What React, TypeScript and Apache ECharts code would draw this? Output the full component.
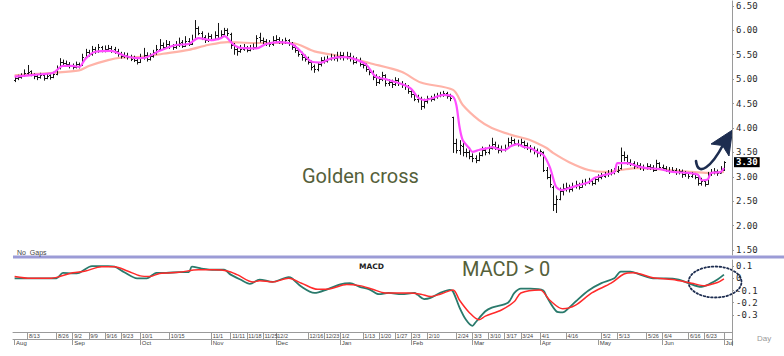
import React, { useEffect, useRef } from 'react';
import * as echarts from 'echarts';

// ---------- categories (trading days) ----------
const START_DATE = '2024-08-07';
const END_DATE = '2025-07-03';
const HOLIDAYS = [
  '2024-10-14', '2024-11-28', '2024-12-25', '2024-12-26', '2025-01-01', '2025-02-17',
  '2025-04-04', '2025-04-07', '2025-04-14', '2025-04-18', '2025-05-05', '2025-05-06',
  '2025-06-02', '2025-06-03',
];
const DATE_LABELS = [
  '2024-08-13', '2024-08-26', '2024-09-02', '2024-09-09', '2024-09-16', '2024-09-23',
  '2024-10-01', '2024-10-15', '2024-11-01', '2024-11-11', '2024-11-18', '2024-11-25',
  '2024-12-02', '2024-12-16', '2024-12-23', '2025-01-02', '2025-01-13', '2025-01-20',
  '2025-01-27', '2025-02-03', '2025-02-10', '2025-02-24', '2025-03-03', '2025-03-10',
  '2025-03-17', '2025-03-24', '2025-04-01', '2025-04-16', '2025-05-02', '2025-05-13',
  '2025-05-26', '2025-06-04', '2025-06-16', '2025-06-23', '2025-07-01',
];
const HIDDEN_DATE_LABELS = ['2025-07-01'];
const MONTH_NAMES = ['Jan', 'Feb', 'Mar', 'Apr', 'May', 'Jun', 'Jul', 'Aug', 'Sep', 'Oct', 'Nov', 'Dec'];
const PRICE_TICKS = [6.5, 6.0, 5.5, 5.0, 4.5, 4.0, 3.5, 3.0, 2.5, 2.0, 1.5];
const MACD_TICKS = [0.1, 0, -0.1, -0.2, -0.3];
const LAST_PRICE = 3.30;

// ---------- daily OHLC ----------
const opens = [
  4.98, 5.02, 5.04, 5.08, 5.12, 5.16, 5.10, 5.07, 5.04, 5.08,
  5.03, 5.08, 5.05, 5.11, 5.24, 5.36, 5.33, 5.30, 5.28, 5.25,
  5.30, 5.30, 5.46, 5.56, 5.52, 5.62, 5.58, 5.66, 5.60, 5.62,
  5.64, 5.61, 5.58, 5.52, 5.47, 5.50, 5.45, 5.43, 5.40, 5.36,
  5.45, 5.50, 5.42, 5.48, 5.55, 5.62, 5.70, 5.66, 5.72, 5.68,
  5.65, 5.70, 5.76, 5.68, 5.78, 5.72, 5.82, 6.04, 5.95, 5.86,
  5.80, 5.88, 5.82, 5.90, 5.86, 5.92, 6.00, 5.92, 5.70, 5.62,
  5.58, 5.62, 5.65, 5.60, 5.63, 5.66, 5.86, 5.80, 5.78, 5.75,
  5.72, 5.80, 5.82, 5.78, 5.76, 5.80, 5.74, 5.66, 5.60, 5.52,
  5.45, 5.42, 5.35, 5.26, 5.20, 5.30, 5.40, 5.38, 5.42, 5.45,
  5.43, 5.48, 5.50, 5.46, 5.48, 5.44, 5.35, 5.40, 5.30, 5.28,
  5.20, 5.15, 5.05, 4.95, 5.00, 5.08, 4.92, 4.95, 4.90, 4.98,
  4.93, 4.88, 4.85, 4.75, 4.70, 4.60, 4.62, 4.45, 4.55, 4.62,
  4.60, 4.65, 4.68, 4.70, 4.72, 4.66, 4.22, 3.70, 3.55, 3.64,
  3.50, 3.50, 3.42, 3.38, 3.35, 3.45, 3.55, 3.50, 3.60, 3.68,
  3.62, 3.55, 3.58, 3.60, 3.72, 3.75, 3.70, 3.68, 3.72, 3.65,
  3.62, 3.58, 3.55, 3.48, 3.50, 3.15, 3.00, 2.80, 2.45, 2.55,
  2.70, 2.78, 2.80, 2.75, 2.82, 2.85, 2.80, 2.88, 2.90, 2.92,
  2.88, 2.95, 3.00, 3.02, 3.05, 3.08, 3.10, 3.12, 3.18, 3.45,
  3.40, 3.30, 3.28, 3.22, 3.25, 3.20, 3.18, 3.22, 3.20, 3.15,
  3.28, 3.20, 3.18, 3.15, 3.12, 3.15, 3.10, 3.12, 3.05, 3.08,
  3.02, 3.05, 3.00, 2.88, 2.92, 2.86, 3.05, 3.10, 3.12, 3.08, 3.15,
];
const highs = [
  5.06, 5.09, 5.12, 5.20, 5.29, 5.18, 5.12, 5.09, 5.13, 5.10,
  5.12, 5.10, 5.15, 5.28, 5.43, 5.40, 5.38, 5.35, 5.32, 5.36,
  5.34, 5.52, 5.62, 5.60, 5.68, 5.66, 5.72, 5.68, 5.69, 5.70,
  5.68, 5.66, 5.62, 5.56, 5.55, 5.54, 5.50, 5.48, 5.44, 5.52,
  5.64, 5.55, 5.53, 5.60, 5.70, 5.82, 5.75, 5.80, 5.78, 5.72,
  5.78, 5.85, 5.80, 5.88, 5.84, 5.91, 6.21, 6.08, 5.98, 5.90,
  5.95, 5.92, 5.98, 6.15, 6.00, 6.05, 6.04, 5.95, 5.74, 5.68,
  5.70, 5.72, 5.68, 5.70, 5.73, 5.90, 5.95, 5.85, 5.82, 5.80,
  5.88, 5.90, 5.86, 5.82, 5.85, 5.82, 5.76, 5.70, 5.64, 5.56,
  5.50, 5.46, 5.38, 5.30, 5.35, 5.45, 5.46, 5.48, 5.52, 5.50,
  5.56, 5.56, 5.55, 5.56, 5.54, 5.48, 5.45, 5.44, 5.35, 5.32,
  5.22, 5.18, 5.10, 5.06, 5.15, 5.10, 5.00, 4.99, 5.04, 5.02,
  4.96, 4.92, 4.88, 4.80, 4.74, 4.68, 4.64, 4.60, 4.66, 4.66,
  4.70, 4.72, 4.74, 4.76, 4.74, 4.70, 4.23, 3.78, 3.75, 3.70,
  3.58, 3.55, 3.48, 3.44, 3.50, 3.62, 3.60, 3.66, 3.80, 3.72,
  3.66, 3.64, 3.66, 3.80, 3.82, 3.78, 3.76, 3.78, 3.74, 3.70,
  3.65, 3.62, 3.58, 3.56, 3.52, 3.20, 3.05, 2.82, 2.62, 2.78,
  2.86, 2.88, 2.84, 2.88, 2.92, 2.88, 2.94, 2.96, 2.98, 2.95,
  3.00, 3.05, 3.08, 3.10, 3.14, 3.16, 3.18, 3.22, 3.60, 3.52,
  3.45, 3.36, 3.32, 3.30, 3.28, 3.25, 3.28, 3.26, 3.24, 3.35,
  3.30, 3.25, 3.22, 3.20, 3.20, 3.18, 3.16, 3.15, 3.12, 3.10,
  3.10, 3.08, 3.02, 2.98, 2.95, 3.10, 3.16, 3.18, 3.15, 3.22, 3.32,
];
const lows = [
  4.94, 4.98, 5.01, 5.05, 5.08, 5.06, 5.00, 4.98, 5.01, 4.97,
  5.00, 4.99, 5.02, 5.08, 5.20, 5.28, 5.25, 5.22, 5.20, 5.22,
  5.22, 5.27, 5.42, 5.46, 5.48, 5.52, 5.54, 5.55, 5.55, 5.57,
  5.54, 5.52, 5.46, 5.42, 5.43, 5.40, 5.37, 5.35, 5.30, 5.33,
  5.40, 5.36, 5.38, 5.44, 5.50, 5.58, 5.60, 5.62, 5.62, 5.60,
  5.62, 5.66, 5.64, 5.66, 5.68, 5.70, 5.80, 5.90, 5.80, 5.74,
  5.76, 5.78, 5.80, 5.80, 5.84, 5.90, 5.88, 5.62, 5.50, 5.48,
  5.54, 5.58, 5.55, 5.57, 5.60, 5.64, 5.75, 5.72, 5.68, 5.66,
  5.68, 5.74, 5.72, 5.70, 5.72, 5.68, 5.60, 5.54, 5.46, 5.38,
  5.36, 5.30, 5.18, 5.13, 5.16, 5.26, 5.32, 5.34, 5.38, 5.38,
  5.36, 5.40, 5.38, 5.40, 5.36, 5.30, 5.32, 5.26, 5.22, 5.15,
  5.08, 4.98, 4.86, 4.90, 4.96, 4.85, 4.86, 4.82, 4.86, 4.86,
  4.82, 4.78, 4.70, 4.62, 4.55, 4.52, 4.37, 4.40, 4.50, 4.54,
  4.56, 4.60, 4.63, 4.64, 4.60, 4.55, 3.49, 3.48, 3.45, 3.42,
  3.40, 3.36, 3.30, 3.28, 3.32, 3.42, 3.44, 3.46, 3.56, 3.55,
  3.48, 3.50, 3.52, 3.58, 3.66, 3.64, 3.62, 3.62, 3.58, 3.55,
  3.50, 3.46, 3.40, 3.42, 3.10, 2.95, 2.78, 2.30, 2.26, 2.52,
  2.62, 2.70, 2.68, 2.70, 2.76, 2.74, 2.78, 2.82, 2.85, 2.82,
  2.84, 2.90, 2.95, 2.98, 3.00, 3.03, 3.05, 3.08, 3.15, 3.32,
  3.25, 3.22, 3.16, 3.18, 3.14, 3.12, 3.15, 3.14, 3.10, 3.12,
  3.15, 3.12, 3.10, 3.06, 3.08, 3.04, 3.05, 2.98, 3.00, 2.96,
  2.98, 2.95, 2.82, 2.82, 2.80, 2.84, 3.02, 3.05, 3.02, 3.08, 3.12,
];
const closes = [
  5.02, 5.05, 5.08, 5.12, 5.15, 5.10, 5.06, 5.04, 5.08, 5.03,
  5.07, 5.05, 5.10, 5.22, 5.35, 5.33, 5.30, 5.28, 5.25, 5.30,
  5.28, 5.45, 5.55, 5.52, 5.62, 5.58, 5.65, 5.60, 5.62, 5.64,
  5.60, 5.58, 5.52, 5.48, 5.50, 5.45, 5.42, 5.40, 5.35, 5.45,
  5.50, 5.42, 5.48, 5.55, 5.62, 5.70, 5.66, 5.72, 5.68, 5.65,
  5.70, 5.75, 5.68, 5.78, 5.72, 5.80, 6.05, 5.95, 5.85, 5.80,
  5.88, 5.82, 5.90, 5.85, 5.92, 6.00, 5.95, 5.70, 5.62, 5.58,
  5.62, 5.65, 5.60, 5.63, 5.66, 5.85, 5.80, 5.78, 5.75, 5.72,
  5.80, 5.82, 5.78, 5.76, 5.80, 5.74, 5.66, 5.60, 5.52, 5.45,
  5.42, 5.35, 5.25, 5.20, 5.30, 5.40, 5.38, 5.42, 5.45, 5.43,
  5.48, 5.50, 5.46, 5.48, 5.44, 5.35, 5.40, 5.30, 5.28, 5.20,
  5.15, 5.05, 4.95, 5.00, 5.08, 4.92, 4.95, 4.90, 4.98, 4.93,
  4.88, 4.85, 4.75, 4.70, 4.60, 4.62, 4.45, 4.55, 4.62, 4.60,
  4.65, 4.68, 4.70, 4.72, 4.66, 4.62, 3.70, 3.55, 3.65, 3.50,
  3.50, 3.42, 3.38, 3.35, 3.45, 3.55, 3.50, 3.60, 3.68, 3.62,
  3.55, 3.58, 3.60, 3.72, 3.75, 3.70, 3.68, 3.72, 3.65, 3.62,
  3.58, 3.55, 3.48, 3.52, 3.15, 3.00, 2.85, 2.45, 2.55, 2.70,
  2.78, 2.80, 2.75, 2.82, 2.85, 2.80, 2.88, 2.90, 2.92, 2.88,
  2.95, 3.00, 3.02, 3.05, 3.08, 3.10, 3.12, 3.15, 3.45, 3.40,
  3.30, 3.28, 3.22, 3.25, 3.20, 3.18, 3.22, 3.20, 3.15, 3.28,
  3.20, 3.18, 3.15, 3.12, 3.15, 3.10, 3.12, 3.05, 3.08, 3.02,
  3.05, 3.00, 2.88, 2.92, 2.85, 3.05, 3.10, 3.12, 3.08, 3.15, 3.30,
];

// ---------- moving averages: [trading-day index, value] ----------
const maShort = [
  [0, 5.05], [8, 5.10], [12, 5.13], [15, 5.27], [18, 5.27], [20, 5.25], [22, 5.42], [25, 5.56],
  [30, 5.58], [34, 5.48], [38, 5.43], [41, 5.45], [45, 5.58], [50, 5.70], [54, 5.72], [57, 5.84],
  [61, 5.80], [64, 5.84], [65, 5.88], [68, 5.70], [70, 5.64], [75, 5.63], [78, 5.72], [82, 5.76],
  [86, 5.72], [89, 5.55], [92, 5.36], [95, 5.34], [98, 5.42], [102, 5.45], [105, 5.42], [109, 5.30],
  [112, 5.05], [115, 5.00], [120, 4.90], [123, 4.80], [125, 4.63], [127, 4.57], [130, 4.62],
  [133, 4.68], [136, 4.64], [137, 4.47], [138, 4.02], [139, 3.75], [141, 3.59], [142, 3.51],
  [144, 3.55], [147, 3.59], [148, 3.61], [150, 3.57], [152, 3.55], [154, 3.63], [156, 3.67],
  [158, 3.61], [160, 3.59], [162, 3.51], [164, 3.45], [166, 3.20], [167, 2.98], [168, 2.79],
  [170, 2.73], [172, 2.77], [175, 2.83], [178, 2.89], [180, 2.98], [183, 3.04], [186, 3.10],
  [187, 3.28], [190, 3.28], [193, 3.22], [196, 3.18], [200, 3.16], [204, 3.10], [209, 3.08],
  [212, 3.04], [213, 2.93], [215, 2.95], [216, 3.08], [219, 3.10], [220, 3.18],
];
const maLong = [
  [0, 5.08], [12, 5.13], [20, 5.18], [23, 5.27], [29, 5.39], [33, 5.44], [40, 5.46], [46, 5.52],
  [54, 5.60], [60, 5.70], [66, 5.76], [74, 5.74], [86, 5.74], [93, 5.57], [103, 5.45],
  [110, 5.33], [120, 5.15], [126, 4.93], [136, 4.78], [139, 4.47], [144, 4.16], [148, 4.00],
  [154, 3.86], [160, 3.75], [165, 3.59], [167, 3.49], [172, 3.30], [178, 3.14], [183, 3.10],
  [188, 3.14], [193, 3.18], [203, 3.14], [210, 3.10], [215, 3.08], [220, 3.10],
];

// ---------- MACD ----------
const macdLine = [
  [0, 0.0], [5, 0.0], [9, 0.0], [13, 0.0], [15, 0.045], [18, 0.04], [20, 0.045], [24, 0.10],
  [29, 0.10], [31, 0.095], [34, 0.05], [38, 0.0], [41, 0.0], [44, 0.045], [47, 0.045], [51, 0.05],
  [54, 0.05], [55, 0.095], [58, 0.08], [62, 0.07], [65, 0.07], [67, 0.03], [70, -0.01],
  [73, -0.045], [76, -0.01], [80, -0.03], [85, 0.01], [86, 0.0], [89, -0.07], [93, -0.12],
  [97, -0.09], [101, -0.05], [104, -0.04], [107, -0.07], [110, -0.09], [113, -0.13], [116, -0.12],
  [120, -0.13], [124, -0.12], [125, -0.135], [127, -0.17], [129, -0.16], [132, -0.12],
  [135, -0.095], [136, -0.11], [138, -0.24], [140, -0.34], [142, -0.39], [143, -0.36],
  [146, -0.27], [148, -0.24], [153, -0.20], [155, -0.12], [157, -0.085], [160, -0.085],
  [164, -0.10], [165, -0.15], [168, -0.27], [170, -0.28], [172, -0.24], [174, -0.19],
  [178, -0.10], [182, -0.04], [186, 0.0], [188, 0.055], [191, 0.055], [194, 0.03], [198, 0.0],
  [202, 0.0], [206, -0.01], [209, -0.04], [213, -0.07], [216, -0.04], [218, -0.01], [220, 0.03],
];
const signalLine = [
  [0, 0.015], [5, 0.0], [11, 0.0], [14, 0.015], [18, 0.045], [22, 0.06], [27, 0.095], [31, 0.095],
  [35, 0.06], [39, 0.02], [42, 0.015], [45, 0.04], [51, 0.05], [57, 0.07], [62, 0.07], [66, 0.06],
  [69, 0.03], [74, -0.03], [76, -0.02], [80, -0.03], [85, 0.0], [89, -0.04], [94, -0.09],
  [98, -0.085], [103, -0.05], [107, -0.06], [111, -0.09], [115, -0.12], [122, -0.12],
  [126, -0.13], [129, -0.15], [132, -0.13], [136, -0.095], [138, -0.18], [141, -0.28],
  [144, -0.34], [146, -0.31], [151, -0.26], [155, -0.19], [157, -0.12], [163, -0.095],
  [166, -0.18], [170, -0.25], [174, -0.22], [179, -0.12], [185, -0.04], [189, 0.035],
  [192, 0.045], [198, 0.005], [204, -0.01], [210, -0.04], [214, -0.06], [218, -0.035], [220, -0.005],
];

function buildDates(): string[] {
  const out: string[] = [];
  const d = new Date(START_DATE + 'T00:00:00Z');
  const end = new Date(END_DATE + 'T00:00:00Z');
  while (d.getTime() <= end.getTime()) {
    const wd = d.getUTCDay();
    const s = d.toISOString().slice(0, 10);
    if (wd !== 0 && wd !== 6 && HOLIDAYS.indexOf(s) < 0) out.push(s);
    d.setUTCDate(d.getUTCDate() + 1);
  }
  return out;
}

const MONO = 'DejaVu Sans Mono';
const NAVY = '#1d2d50';
const NOTE = '#55603a';

export default function App() {
  const ref = useRef<HTMLDivElement>(null);

  useEffect(() => {
    if (!ref.current) return;
    const chart = echarts.init(ref.current, undefined, { renderer: 'svg' });
    const dates = buildDates();
    const labelSet = new Set(DATE_LABELS);
    const monthStart = new Set<number>();
    dates.forEach((d, i) => {
      if (i === 0 || d.slice(5, 7) !== dates[i - 1].slice(5, 7)) monthStart.add(i);
    });
    const ohlc = closes.map((c, i) => [i, opens[i], highs[i], lows[i], c]);

    const option: any = {
      animation: false,
      backgroundColor: '#ffffff',
      grid: [
        { left: 13, right: 52, top: 1, height: 254 },
        { left: 13, right: 52, top: 260, height: 72 },
      ],
      xAxis: [
        { type: 'category', gridIndex: 0, data: dates, boundaryGap: true, show: false },
        {
          type: 'category', gridIndex: 1, data: dates, boundaryGap: true, position: 'bottom',
          axisLine: { show: true, onZero: false, lineStyle: { color: '#9a9a9a', width: 1 } },
          axisTick: {
            show: true, alignWithLabel: true, length: 7,
            interval: (i: number, v: string) => labelSet.has(v),
            lineStyle: { color: '#9a9a9a' },
          },
          axisLabel: {
            show: true, interval: (i: number, v: string) => labelSet.has(v),
            formatter: (v: string) => HIDDEN_DATE_LABELS.indexOf(v) >= 0 ? '' : `${+v.slice(5, 7)}/${+v.slice(8, 10)}`,
            align: 'left', margin: 1, padding: [0, 0, 0, 1.5],
            fontSize: 5.5, color: '#444', fontFamily: 'Liberation Sans',
          },
          splitLine: { show: false },
        },
        {
          type: 'category', gridIndex: 1, data: dates, boundaryGap: true, position: 'bottom', offset: 7,
          axisLine: { show: true, onZero: false, lineStyle: { color: '#9a9a9a', width: 1 } },
          axisTick: {
            show: true, alignWithLabel: true, length: 6,
            interval: (i: number) => monthStart.has(i),
            lineStyle: { color: '#9a9a9a' },
          },
          axisLabel: {
            show: true, interval: (i: number) => monthStart.has(i),
            formatter: (v: string) => MONTH_NAMES[+v.slice(5, 7) - 1],
            align: 'left', margin: 0.5, padding: [0, 0, 0, 1.5],
            fontSize: 6, color: '#444', fontFamily: 'Liberation Sans',
          },
          splitLine: { show: false },
        },
      ],
      yAxis: [
        {
          type: 'value', gridIndex: 0, position: 'right', min: 1.4, max: 6.6,
          splitLine: { show: false },
          axisLine: { show: true, lineStyle: { color: '#9a9a9a' } },
          axisTick: { show: true, customValues: PRICE_TICKS, length: 2, lineStyle: { color: '#9a9a9a' } },
          axisLabel: {
            customValues: PRICE_TICKS, formatter: (v: number) => v.toFixed(2),
            fontFamily: MONO, fontSize: 9, color: '#2a2a2a', margin: 4,
          },
        },
        {
          type: 'value', gridIndex: 0, position: 'right', min: 1.4, max: 6.6,
          splitLine: { show: false }, axisLine: { show: false }, axisTick: { show: false },
          axisLabel: {
            customValues: [LAST_PRICE], formatter: (v: number) => v.toFixed(2),
            fontFamily: MONO, fontSize: 9, fontWeight: 'bold', color: '#ffffff',
            backgroundColor: '#000000', padding: [1, 2, 0, 2], margin: 2,
          },
        },
        {
          type: 'value', gridIndex: 1, position: 'right', min: -0.44, max: 0.15,
          splitLine: { show: false },
          axisLine: { show: true, lineStyle: { color: '#9a9a9a' } },
          axisTick: { show: true, customValues: MACD_TICKS, length: 2, lineStyle: { color: '#9a9a9a' } },
          axisLabel: {
            customValues: MACD_TICKS, formatter: (v: number) => (v === 0 ? '0' : v.toFixed(1)),
            fontFamily: MONO, fontSize: 9, color: '#2a2a2a', margin: 4,
          },
        },
      ],
      series: [
        {
          type: 'line', name: 'MA long', xAxisIndex: 0, yAxisIndex: 0, data: maLong,
          showSymbol: false, smooth: 0.3, z: 1,
          lineStyle: { color: '#ffb3a8', width: 2.2 },
        },
        {
          type: 'custom', name: 'OHLC', xAxisIndex: 0, yAxisIndex: 0, data: ohlc, z: 2,
          encode: { x: 0, y: [1, 2, 3, 4] },
          renderItem: (params: any, api: any) => {
            const i = api.value(0);
            const pt = api.coord([i, api.value(1)]);
            const cx = Math.round(pt[0]) + 0.5;
            const yo = Math.round(pt[1]) + 0.5;
            const yh = api.coord([i, api.value(2)])[1];
            const yl = api.coord([i, api.value(3)])[1];
            const yc = Math.round(api.coord([i, api.value(4)])[1]) + 0.5;
            const st = { stroke: '#151515', lineWidth: 1 };
            return {
              type: 'group',
              children: [
                { type: 'line', shape: { x1: cx, y1: yh, x2: cx, y2: yl }, style: st },
                { type: 'line', shape: { x1: cx - 1.5, y1: yo, x2: cx, y2: yo }, style: st },
                { type: 'line', shape: { x1: cx, y1: yc, x2: cx + 1.5, y2: yc }, style: st },
              ],
            };
          },
        },
        {
          type: 'line', name: 'MA short', xAxisIndex: 0, yAxisIndex: 0, data: maShort,
          showSymbol: false, smooth: 0.3, z: 3,
          lineStyle: { color: '#ff4cff', width: 2.2 },
        },
        {
          type: 'line', name: 'MACD', xAxisIndex: 1, yAxisIndex: 2, data: macdLine,
          showSymbol: false, smooth: 0.3, z: 3,
          lineStyle: { color: '#2a7a6c', width: 1.8 },
        },
        {
          type: 'line', name: 'Signal', xAxisIndex: 1, yAxisIndex: 2, data: signalLine,
          showSymbol: false, smooth: 0.3, z: 4,
          lineStyle: { color: '#ff2a2a', width: 1.5 },
        },
      ],
      graphic: [
        { type: 'rect', shape: { x: 13, y: 255.5, width: 771, height: 3 }, style: { fill: '#9b9bd6' }, silent: true },
        { type: 'line', shape: { x1: 732.5, y1: 332, x2: 732.5, y2: 346 }, style: { stroke: '#9a9a9a', lineWidth: 1 } },
        {
          type: 'text', x: 17, y: 249,
          style: { text: 'No  Gaps', fontSize: 7, fill: '#444', fontFamily: 'Liberation Sans', verticalAlign: 'top' },
        },
        {
          type: 'text', x: 359, y: 262,
          style: { text: 'MACD', fontSize: 7.5, fontWeight: 'bold', fill: '#222', fontFamily: 'DejaVu Sans', verticalAlign: 'top' },
        },
        {
          type: 'text', x: 302, y: 166,
          style: { text: 'Golden cross', fontSize: 20, fill: NOTE, fontFamily: 'Roboto', verticalAlign: 'top' },
        },
        {
          type: 'text', x: 462, y: 259,
          style: { text: 'MACD > 0', fontSize: 20, fill: NOTE, fontFamily: 'Roboto', verticalAlign: 'top' },
        },
        {
          type: 'text', x: 757, y: 334,
          style: { text: 'Day', fontSize: 8, fill: '#999', fontFamily: 'Liberation Sans', verticalAlign: 'top' },
        },
        {
          type: 'ellipse', shape: { cx: 715, cy: 282, rx: 26.5, ry: 15.5 },
          style: { fill: 'none', stroke: NAVY, lineWidth: 1.8, lineDash: [1.6, 2.2], lineCap: 'round' },
        },
        {
          type: 'bezierCurve',
          shape: { x1: 696, y1: 161, x2: 723, y2: 145, cpx1: 698, cpy1: 178, cpx2: 712, cpy2: 166 },
          style: { fill: 'none', stroke: NAVY, lineWidth: 2.6, lineCap: 'round' },
        },
        {
          type: 'polygon',
          shape: { points: [[732.5, 130], [711, 144], [722.5, 145.5], [729, 156]] },
          style: { fill: NAVY, stroke: NAVY, lineWidth: 1, lineJoin: 'round' },
        },
      ],
    };
    chart.setOption(option);
    return () => chart.dispose();
  }, []);

  return (
    <div
      ref={ref}
      style={{ position: 'absolute', left: 0, top: 0, width: 784, height: 356, background: '#fff' }}
    />
  );
}
